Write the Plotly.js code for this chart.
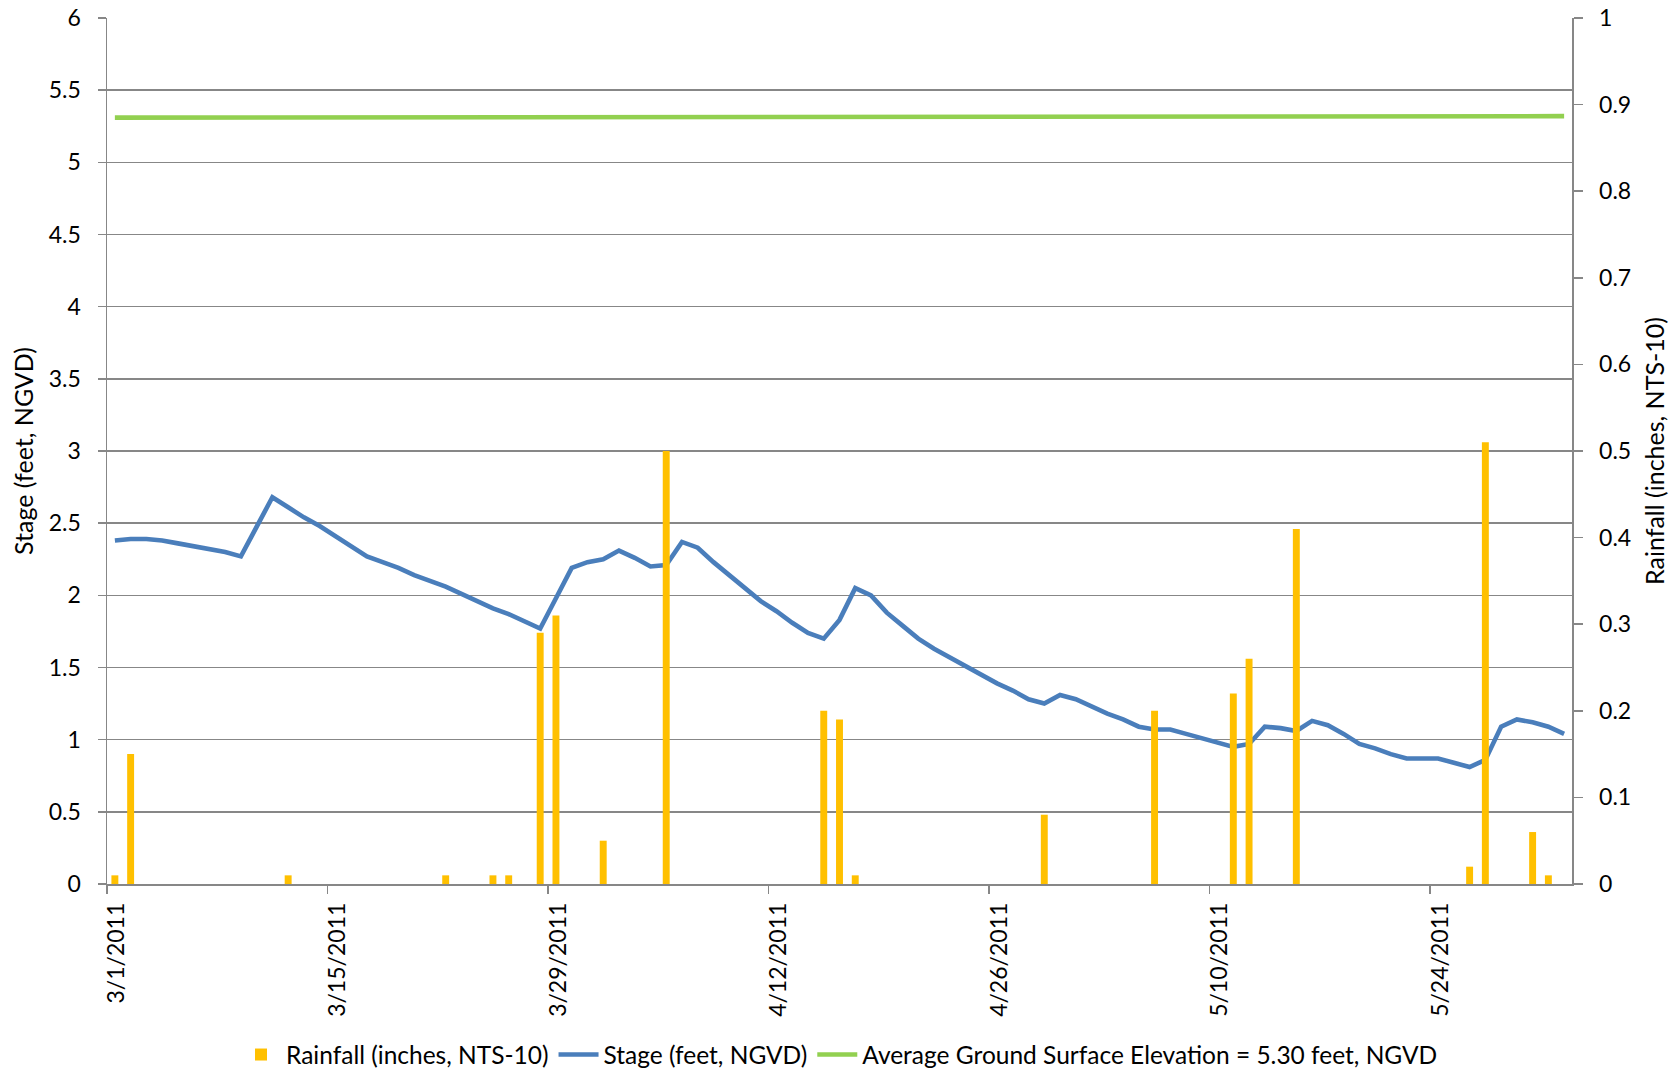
<!DOCTYPE html>
<html><head><meta charset="utf-8">
<script src="https://cdn.plot.ly/plotly-3.0.1.min.js"></script>
<style>html,body{margin:0;padding:0;background:#fff}#chart{width:1679px;height:1072px}</style>
</head><body><div id="chart"></div>
<script>
// ---- data ----
const stageDates = [
 '2011-03-01','2011-03-02','2011-03-03','2011-03-04','2011-03-05','2011-03-06','2011-03-07','2011-03-08','2011-03-09','2011-03-10',
 '2011-03-11','2011-03-12','2011-03-13','2011-03-14','2011-03-15','2011-03-16','2011-03-17','2011-03-18','2011-03-19','2011-03-20',
 '2011-03-21','2011-03-22','2011-03-23','2011-03-24','2011-03-25','2011-03-26','2011-03-27','2011-03-28','2011-03-29','2011-03-30',
 '2011-03-31','2011-04-01','2011-04-02','2011-04-03','2011-04-04','2011-04-05','2011-04-06','2011-04-07','2011-04-08','2011-04-09',
 '2011-04-10','2011-04-11','2011-04-12','2011-04-13','2011-04-14','2011-04-15','2011-04-16','2011-04-17','2011-04-18','2011-04-19',
 '2011-04-20','2011-04-21','2011-04-22','2011-04-23','2011-04-24','2011-04-25','2011-04-26','2011-04-27','2011-04-28','2011-04-29',
 '2011-04-30','2011-05-01','2011-05-02','2011-05-03','2011-05-04','2011-05-05','2011-05-06','2011-05-07','2011-05-08','2011-05-09',
 '2011-05-10','2011-05-11','2011-05-12','2011-05-13','2011-05-14','2011-05-15','2011-05-16','2011-05-17','2011-05-18','2011-05-19',
 '2011-05-20','2011-05-21','2011-05-22','2011-05-23','2011-05-24','2011-05-25','2011-05-26','2011-05-27','2011-05-28','2011-05-29',
 '2011-05-30','2011-05-31','2011-06-01'
];
const stageFeet = [
 2.38,2.39,2.39,2.38,2.36,2.34,2.32,2.30,2.27,2.47,
 2.68,2.61,2.54,2.48,2.41,2.34,2.27,2.23,2.19,2.14,
 2.10,2.06,2.01,1.96,1.91,1.87,1.82,1.77,1.98,2.19,
 2.23,2.25,2.31,2.26,2.20,2.21,2.37,2.33,2.23,2.14,
 2.04,1.96,1.89,1.81,1.74,1.70,1.83,2.05,2.00,1.88,
 1.79,1.70,1.63,1.57,1.51,1.45,1.39,1.34,1.28,1.25,
 1.31,1.28,1.23,1.18,1.14,1.09,1.07,1.07,1.04,1.01,
 0.98,0.95,0.97,1.09,1.08,1.06,1.13,1.10,1.04,0.97,
 0.94,0.90,0.87,0.87,0.87,0.84,0.81,0.86,1.09,1.14,
 1.12,1.09,1.04
];
const rainDates = [
 '2011-03-01','2011-03-02','2011-03-12','2011-03-22','2011-03-25','2011-03-26','2011-03-28','2011-03-29',
 '2011-04-01','2011-04-05','2011-04-15','2011-04-16','2011-04-17','2011-04-29',
 '2011-05-06','2011-05-11','2011-05-12','2011-05-15','2011-05-26','2011-05-27','2011-05-30','2011-05-31'
];
const rainInches = [
 0.01,0.15,0.01,0.01,0.01,0.01,0.29,0.31,
 0.05,0.50,0.20,0.19,0.01,0.08,
 0.20,0.22,0.26,0.41,0.02,0.51,0.06,0.01
];
const groundDates = ['2011-03-01','2011-06-01'];
const groundFeet = [5.31, 5.32];

const xRange = ['2011-03-01','2011-06-02'];
const xTick0 = '2011-03-01';
const stageRange = [0, 6];
const rainRange = [0, 1];

// ---- styles ----
const DAY = 86400000;
const FONT = 'Lato, "Open Sans", "Noto Sans", sans-serif';
const GRID = '#878787';
const TICK = {family: FONT, size: 23, color: '#000000'};
const TITLE = {family: FONT, size: 25, color: '#000000'};

const traces = [
 {
  type: 'bar', name: 'Rainfall (inches, NTS-10)',
  x: rainDates, y: rainInches, yaxis: 'y2',
  xperiod: DAY, xperiodalignment: 'middle',
  marker: {color: '#FFC000', line: {width: 0}}
 },
 {
  type: 'scatter', mode: 'lines', name: 'Stage (feet, NGVD)',
  x: stageDates, y: stageFeet,
  xperiod: DAY, xperiodalignment: 'middle',
  line: {color: '#4A7EBB', width: 4.6}
 },
 {
  type: 'scatter', mode: 'lines', name: 'Average Ground Surface Elevation = 5.30 feet, NGVD',
  x: groundDates, y: groundFeet,
  xperiod: DAY, xperiodalignment: 'middle',
  line: {color: '#92D050', width: 4.6}
 }
];

const layout = {
 width: 1679, height: 1072,
 margin: {l: 107, r: 107, t: 18, b: 188, pad: 0, autoexpand: false},
 paper_bgcolor: '#ffffff', plot_bgcolor: '#ffffff',
 font: {family: FONT, size: 23, color: '#000000'},
 bargap: 0.56,
 showlegend: true,
 legend: {
  orientation: 'h', x: 0.5, xanchor: 'center', y: -0.197, yanchor: 'middle',
  font: {family: FONT, size: 24.5, color: '#000000'},
  traceorder: 'normal', itemwidth: 40
 },
 xaxis: {
  type: 'date', range: xRange, tick0: xTick0, dtick: 14 * DAY,
  tickformat: '%-m/%-d/%Y', tickangle: -90,
  ticks: 'outside', ticklen: 8, tickwidth: 1.5, tickcolor: GRID,
  showline: true, linecolor: GRID, linewidth: 1.5,
  showgrid: false, zeroline: false, automargin: false,
  ticklabelshift: 10,
  tickfont: TICK
 },
 yaxis: {
  range: stageRange, dtick: 0.5,
  ticks: 'outside', ticklen: 8, tickwidth: 1.5, tickcolor: GRID,
  showline: true, linecolor: GRID, linewidth: 1.5,
  showgrid: true, gridcolor: GRID, gridwidth: 1.5, zeroline: false, automargin: false,
  ticklabelstandoff: 12,
  tickfont: TICK,
  title: {text: 'Stage (feet, NGVD)', standoff: 8, font: TITLE}
 },
 yaxis2: {
  range: rainRange, dtick: 0.1, overlaying: 'y', side: 'right',
  ticks: 'outside', ticklen: 9, tickwidth: 1.5, tickcolor: GRID,
  showline: true, linecolor: GRID, linewidth: 1.5,
  showgrid: false, zeroline: false, automargin: false,
  ticklabelstandoff: 12,
  tickfont: TICK,
  title: {text: 'Rainfall (inches, NTS-10)', standoff: 16, font: TITLE}
 }
};

Plotly.newPlot('chart', traces, layout, {displayModeBar: false, staticPlot: true});
</script>
</body></html>
